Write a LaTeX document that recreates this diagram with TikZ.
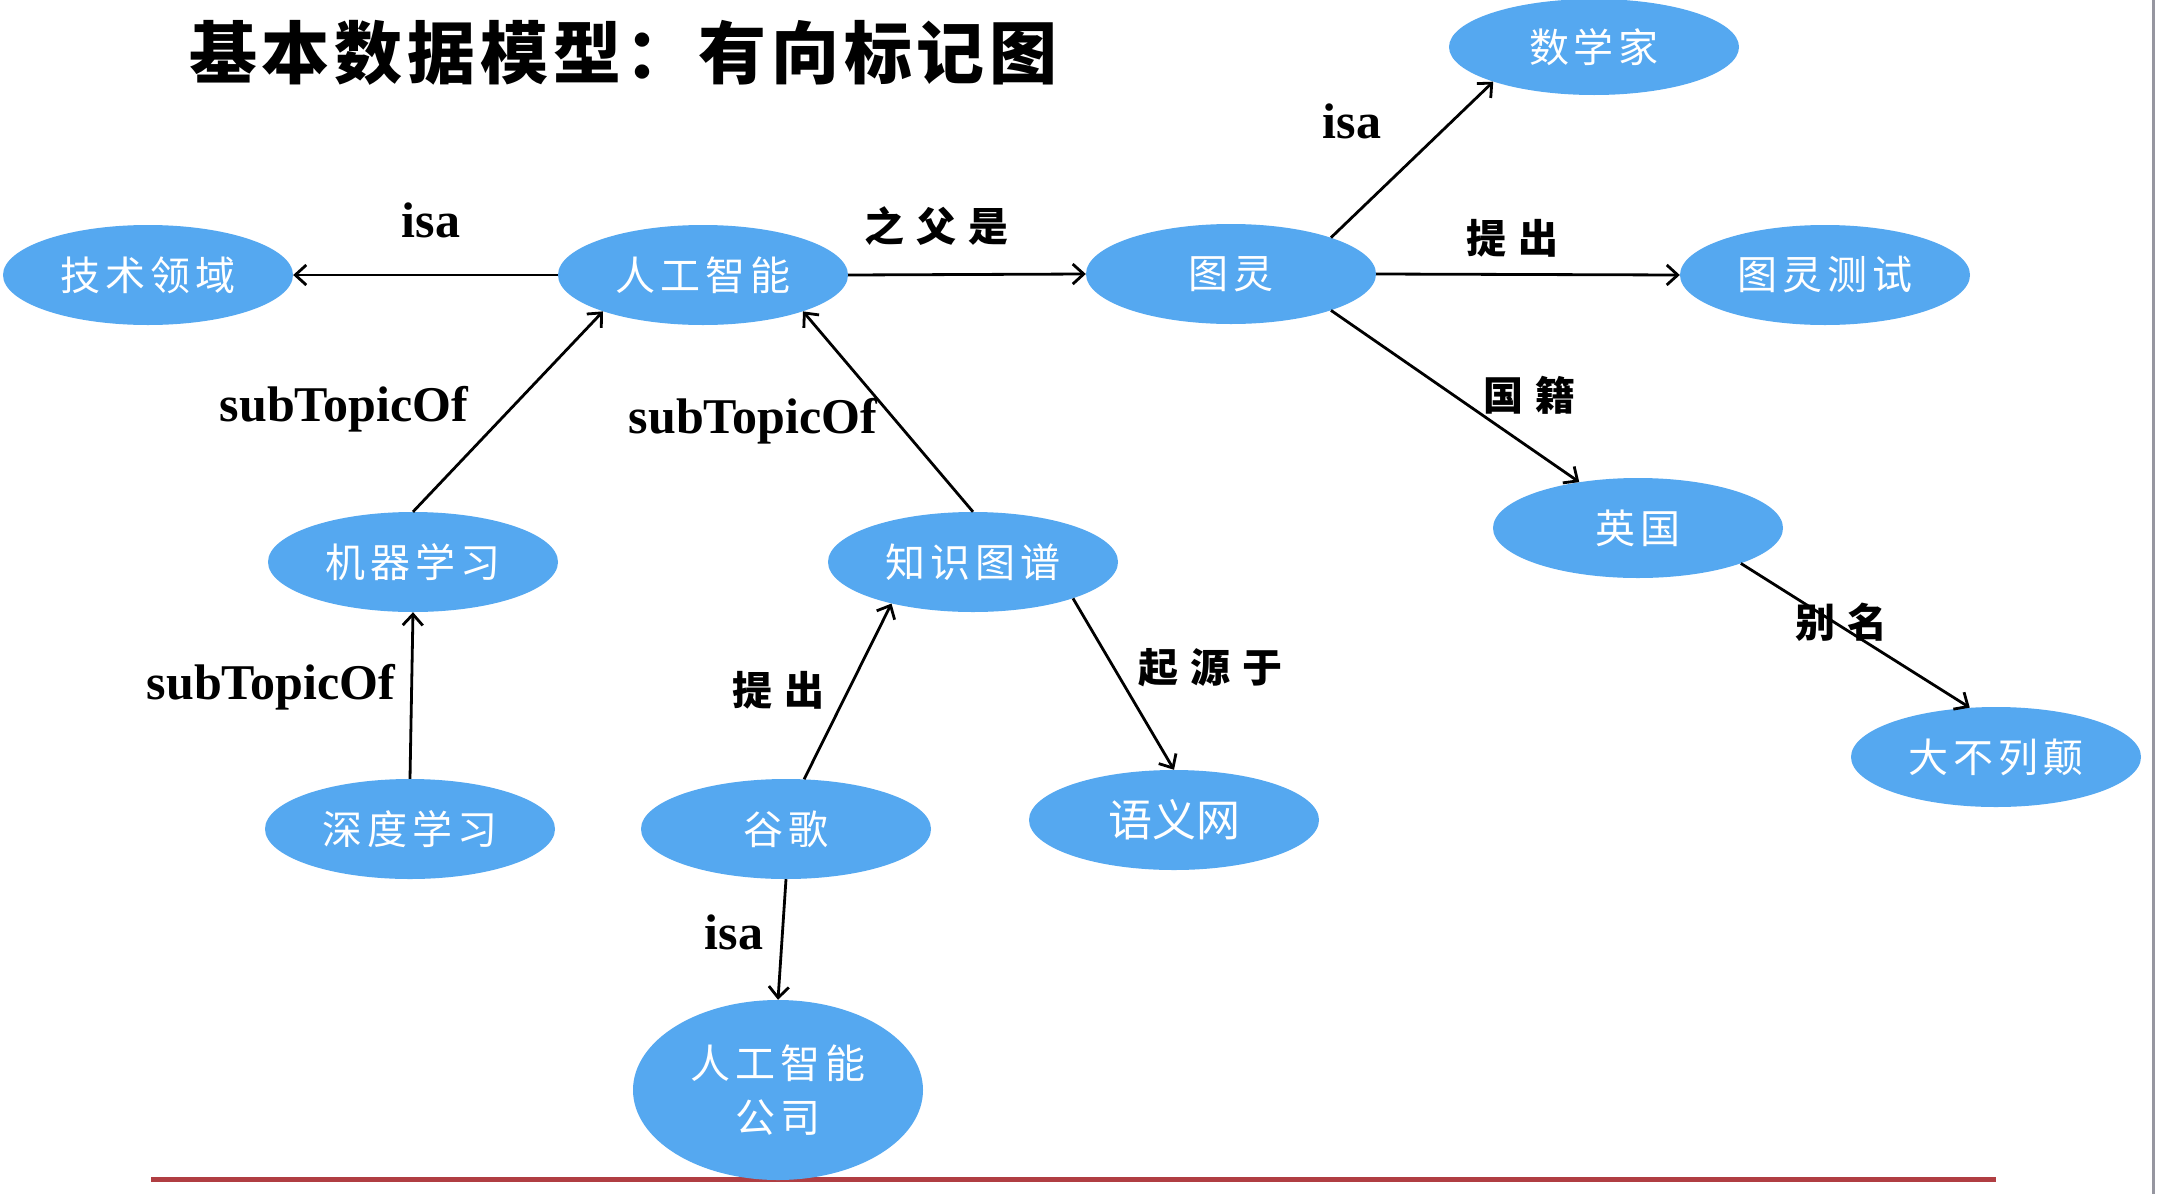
\documentclass[tikz,border=0pt]{standalone}
\usepackage{fontspec}
\setmainfont{Liberation Serif}
\newfontfamily\cjk{Noto Sans CJK SC}
\newfontfamily\cjkt[LetterSpace=12]{Noto Sans CJK SC}
\newfontfamily\cjkl[LetterSpace=30]{Noto Sans CJK SC}
\newfontfamily\cjktitle[LetterSpace=7]{Noto Sans CJK SC}
\usetikzlibrary{shapes.geometric,arrows.meta}
\definecolor{nodeblue}{RGB}{85,168,240}
\definecolor{redrule}{RGB}{176,62,66}
\definecolor{edgegray}{RGB}{150,150,160}
\tikzset{
  ent/.style={ellipse, fill=nodeblue, minimum width=290pt, minimum height=100pt, inner sep=0pt, text=white, font=\cjkt\fontsize{40}{48}\selectfont},
  arr/.style={draw=black, line width=2.8pt, -{Straight Barb[length=11pt,width=20pt,line width=2.8pt]}},
  lat/.style={font=\bfseries\fontsize{50}{60}\selectfont, inner sep=0pt},
  zh/.style={font=\cjkl\bfseries\fontsize{40}{48}\selectfont, inner sep=0pt},
}
\begin{document}
\begin{tikzpicture}[x=1pt,y=-1pt]
\useasboundingbox (0,0) rectangle (2158,1194);
\fill[white] (0,0) rectangle (2158,1194);
% frame lines
\draw[draw=edgegray, line width=3pt] (2153,0) -- (2153,1194);
\draw[draw=redrule, line width=5pt] (151,1179) -- (1996,1179);
% title
\node[anchor=west, inner sep=0pt, font=\cjktitle\bfseries\fontsize{68}{80}\selectfont] (title) at (189,53) {基本数据模型：有向标记图};
% entities
\node[ent] (tech) at (148,275) {技术领域};
\node[ent] (ai) at (703,275) {人工智能};
\node[ent] (turing) at (1231,274) {图灵};
\node[ent, minimum height=96pt] (math) at (1594,47) {数学家};
\node[ent] (test) at (1825,275) {图灵测试};
\node[ent] (uk) at (1638,528) {英国};
\node[ent] (gb) at (1996,757) {大不列颠};
\node[ent] (ml) at (413,562) {机器学习};
\node[ent] (kg) at (973,562) {知识图谱};
\node[ent] (deep) at (410,829) {深度学习};
\node[ent] (google) at (786,829) {谷歌};
\node[ent, font=\cjk\fontsize{44}{50}\selectfont] (sem) at (1174,820) {语义网};
\node[ent, minimum height=180pt, align=center, font=\cjkt\fontsize{40}{54}\selectfont] (company) at (778,1090) {人工智能\\公司};
% edges
\draw[arr] (ai.west) -- (tech.east);
\draw[arr] (ai.east) -- (turing.west);
\draw[arr] (turing.20) -- (math.199);
\draw[arr] (turing.east) -- (test.west);
\draw[arr] (turing.340) -- (uk.142);
\draw[arr] (uk.341) -- (gb.118);
\draw[arr] (ml.north) -- (ai.200);
\draw[arr] (kg.north) -- (ai.340);
\draw[arr] (deep.north) -- (ml.south);
\draw[arr] (google.70) -- (kg.207);
\draw[arr] (kg.340) -- (sem.north);
\draw[arr] (google.south) -- (company.north);
% edge labels
\node[lat] (l1) at (431,220) {isa};
\node[zh] (l2) at (936,226) {之父是};
\node[lat] (l3) at (1352,121) {isa};
\node[zh] (l4) at (1512,238) {提出};
\node[zh] (l5) at (1529,395) {国籍};
\node[zh] (l6) at (1841,622) {别名};
\node[lat] (l7) at (344,409) {subTopicOf};
\node[lat] (l8) at (753,421) {subTopicOf};
\node[lat] (l9) at (271,687) {subTopicOf};
\node[zh] (l10) at (778,690) {提出};
\node[zh] (l11) at (1210,668) {起源于};
\node[lat] (l12) at (734,932) {isa};
\end{tikzpicture}
\end{document}
